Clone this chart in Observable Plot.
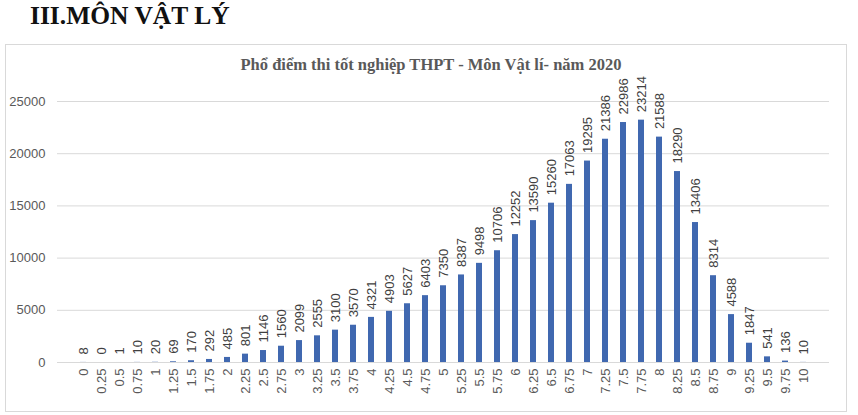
<!DOCTYPE html>
<html>
<head>
<meta charset="utf-8">
<script src="https://cdn.jsdelivr.net/npm/d3@7"></script>
<script src="https://cdn.jsdelivr.net/npm/@observablehq/plot@0.6"></script>
<style>
  html, body { margin: 0; padding: 0; background: #fff; width: 858px; height: 415px; overflow: hidden; }
  #heading { position: absolute; left: 30px; top: 1px; font-family: "Liberation Serif", "Times New Roman", serif; font-weight: bold; font-size: 25.5px; color: #111; white-space: nowrap; }
  #frame { position: absolute; left: 5px; top: 44px; width: 842px; height: 368px; border: 1px solid #d9d9d9; box-sizing: border-box; }
  #title { position: absolute; left: 0; width: 862px; top: 55px; text-align: center; font-family: "Liberation Serif", "Times New Roman", serif; font-weight: bold; font-size: 16.5px; color: #595959; white-space: nowrap; }
  #chart { position: absolute; left: 0; top: 0; }
</style>
</head>
<body>
<div id="heading">III.MÔN VẬT LÝ</div>
<div id="frame"></div>
<div id="title">Phổ điểm thi tốt nghiệp THPT - Môn Vật lí- năm 2020</div>
<div id="chart"></div>
<script>
const scores = ["0","0.25","0.5","0.75","1","1.25","1.5","1.75","2","2.25","2.5","2.75","3","3.25","3.5","3.75","4","4.25","4.5","4.75","5","5.25","5.5","5.75","6","6.25","6.5","6.75","7","7.25","7.5","7.75","8","8.25","8.5","8.75","9","9.25","9.5","9.75","10"];
const counts = [8,0,1,10,20,69,170,292,485,801,1146,1560,2099,2555,3100,3570,4321,4903,5627,6403,7350,8387,9498,10706,12252,13590,15260,17063,19295,21386,22986,23214,21588,18290,13406,8314,4588,1847,541,136,10];
const yTicks = [0,5000,10000,15000,20000,25000];

const data = scores.map((s, i) => ({score: s, count: counts[i]}));

const chart = Plot.plot({
  width: 858,
  height: 415,
  marginTop: 101,
  marginBottom: 53,
  marginLeft: 57,
  marginRight: 29,
  style: { fontFamily: "'Liberation Sans', Arial, sans-serif", fontSize: "13px", color: "#595959", background: "transparent" },
  x: { domain: scores, padding: 0.68, label: null },
  y: { domain: [0, 25000], label: null },
  marks: [
    Plot.gridY(yTicks, { stroke: "#d9d9d9", strokeOpacity: 1, strokeWidth: 1 }),
    Plot.barY(data, { x: "score", y: "count", fill: "#4068b0" }),
    Plot.text(data, { x: "score", y: "count", text: d => String(d.count), rotate: -90, textAnchor: "start", dy: -8, fill: "#404040", fontSize: 13 }),
    Plot.axisY({ ticks: yTicks, tickFormat: d => String(d), tickSize: 0, tickPadding: 12, label: null, fill: "#595959", fontSize: 13 }),
    Plot.axisX({ tickSize: 0, tickPadding: 6, tickRotate: -90, label: null, fill: "#595959", fontSize: 13 })
  ]
});
document.getElementById("chart").appendChild(chart);
</script>
</body>
</html>
